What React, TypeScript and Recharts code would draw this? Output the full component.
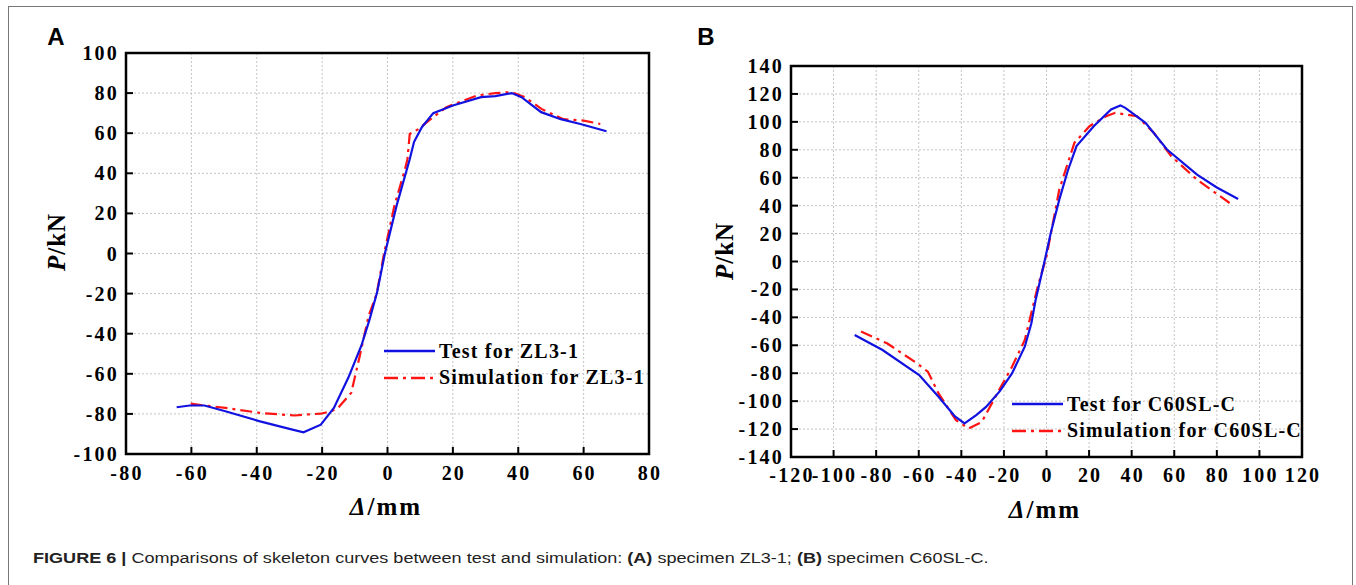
import React from "react";
import { LineChart, Line, XAxis, YAxis, CartesianGrid, ReferenceArea } from "recharts";

// Panel A: specimen ZL3-1  (d = displacement mm, p = load kN)
const testZL3 = [
  { d: -64.5, p: -76.7 }, { d: -60.5, p: -75.8 }, { d: -56, p: -75.8 }, { d: -49.6, p: -78.7 },
  { d: -39, p: -83.7 }, { d: -30, p: -87.5 }, { d: -25.7, p: -89.2 }, { d: -20.4, p: -85.4 },
  { d: -16.4, p: -77 }, { d: -12, p: -62 }, { d: -8, p: -46 }, { d: -5.5, p: -33 },
  { d: -3.2, p: -19.5 }, { d: -0.8, p: 0 }, { d: 2.8, p: 24 }, { d: 6.8, p: 47 },
  { d: 8.1, p: 55.6 }, { d: 10.5, p: 63 }, { d: 14, p: 70 }, { d: 20, p: 73.8 },
  { d: 28.6, p: 78 }, { d: 33, p: 78.5 }, { d: 38, p: 80 }, { d: 41, p: 78 },
  { d: 47, p: 70.5 }, { d: 53, p: 67 }, { d: 59, p: 64.6 }, { d: 67, p: 61 },
];
const simZL3 = [
  { d: -60.2, p: -74.9 }, { d: -55, p: -76 }, { d: -49.6, p: -77 }, { d: -39, p: -79.5 },
  { d: -28.4, p: -80.8 }, { d: -24, p: -80.2 }, { d: -20.4, p: -79.9 }, { d: -17, p: -78.5 },
  { d: -15.1, p: -77 }, { d: -11.1, p: -69.5 }, { d: -8.5, p: -51.2 }, { d: -5.8, p: -31.2 },
  { d: -3.3, p: -20 }, { d: -1.2, p: -1.2 }, { d: 2.1, p: 23.8 }, { d: 5, p: 40 },
  { d: 6.1, p: 47 }, { d: 6.8, p: 59.6 }, { d: 9.4, p: 62 }, { d: 14, p: 68 },
  { d: 18, p: 73 }, { d: 27.3, p: 78.8 }, { d: 33, p: 80 }, { d: 37.9, p: 80.5 },
  { d: 42, p: 78 }, { d: 47.2, p: 72 }, { d: 53.8, p: 67 }, { d: 60, p: 66.3 }, { d: 65.1, p: 64.6 },
];

// Panel B: specimen C60SL-C
const testC60 = [
  { d: -90.1, p: -52.6 }, { d: -77, p: -63.4 }, { d: -59.8, p: -81.3 }, { d: -50.7, p: -96.9 },
  { d: -43, p: -111 }, { d: -38.5, p: -116 }, { d: -33, p: -110 }, { d: -28.4, p: -104.1 },
  { d: -22, p: -93 }, { d: -16.2, p: -80.1 }, { d: -10.2, p: -61 }, { d: -7.1, p: -44.2 },
  { d: -5.1, p: -27.5 }, { d: -1.1, p: -1.1 }, { d: 2, p: 20.4 }, { d: 6, p: 44.3 },
  { d: 10, p: 65 }, { d: 14.1, p: 82.6 }, { d: 22.2, p: 96.9 }, { d: 30.3, p: 108.9 },
  { d: 34.7, p: 111.8 }, { d: 37, p: 110 }, { d: 46.5, p: 99.3 }, { d: 56.6, p: 80.2 },
  { d: 70.7, p: 62.2 }, { d: 80, p: 53 }, { d: 90, p: 44.8 },
];
const simC60 = [
  { d: -87.1, p: -50.2 }, { d: -74.9, p: -58.6 }, { d: -60.8, p: -72.9 }, { d: -55.7, p: -79 },
  { d: -50.7, p: -94.5 }, { d: -42.5, p: -113.6 }, { d: -36.5, p: -119.6 }, { d: -30.4, p: -114.9 },
  { d: -22.3, p: -92.1 }, { d: -16.2, p: -75.4 }, { d: -10.2, p: -56.2 }, { d: -4.1, p: -17.9 },
  { d: 0, p: 3.6 }, { d: 6, p: 51.5 }, { d: 13.1, p: 85 }, { d: 20.2, p: 96.9 },
  { d: 28, p: 104 }, { d: 32.3, p: 106.5 }, { d: 42.5, p: 104 }, { d: 50.5, p: 92 },
  { d: 58.6, p: 75.4 }, { d: 70.7, p: 58.6 }, { d: 86, p: 41.9 },
];

const xTicksA = [-80, -60, -40, -20, 0, 20, 40, 60, 80];
const yTicksA = [-100, -80, -60, -40, -20, 0, 20, 40, 60, 80, 100];
const xTicksB = [-120, -100, -80, -60, -40, -20, 0, 20, 40, 60, 80, 100, 120];
const yTicksB = [-140, -120, -100, -80, -60, -40, -20, 0, 20, 40, 60, 80, 100, 120, 140];

const legendA = ["Test for ZL3-1", "Simulation for ZL3-1"];
const legendB = ["Test for C60SL-C", "Simulation for C60SL-C"];

const serif = "'Liberation Serif', 'Times New Roman', serif";
const BLUE = "#1212e0";
const RED = "#ff1414";
const DASH = "12 5 3 5";

function XTick({ x, y, payload, dy }: any) {
  return (
    <g>
      <line x1={x} x2={x} y1={y} y2={y - 7} stroke="#000" strokeWidth={2} />
      <text x={x + 1} y={y + dy} textAnchor="middle" dominantBaseline="central"
        fontFamily={serif} fontWeight="bold" fontSize={20} letterSpacing={2.2} fill="#000">
        {payload.value}
      </text>
    </g>
  );
}

function YTick({ x, y, payload }: any) {
  return (
    <g>
      <line x1={x} x2={x + 7} y1={y} y2={y} stroke="#000" strokeWidth={2} />
      <text x={x - 7} y={y} textAnchor="end" dominantBaseline="central"
        fontFamily={serif} fontWeight="bold" fontSize={20} letterSpacing={2.2} fill="#000">
        {payload.value}
      </text>
    </g>
  );
}

function Panel({ test, sim, xTicks, yTicks, width, height, margin, dy }: any) {
  const xd = [xTicks[0], xTicks[xTicks.length - 1]];
  const yd = [yTicks[0], yTicks[yTicks.length - 1]];
  return (
    <LineChart width={width} height={height} margin={margin}>
      <CartesianGrid stroke="#c4c4c4" strokeDasharray="2 2" />
      <XAxis dataKey="d" type="number" domain={xd} ticks={xTicks} interval={0} height={30}
        axisLine={false} tickLine={false} tickSize={0} tickMargin={0}
        tick={(p: any) => <XTick {...p} dy={dy} />} allowDataOverflow />
      <YAxis dataKey="p" type="number" domain={yd} ticks={yTicks} interval={0} width={60}
        axisLine={false} tickLine={false} tickSize={0} tickMargin={0}
        tick={(p: any) => <YTick {...p} />} allowDataOverflow />
      <ReferenceArea x1={xd[0]} x2={xd[1]} y1={yd[0]} y2={yd[1]} fill="none" fillOpacity={0}
        stroke="#000" strokeWidth={2.5} />
      <Line data={sim} dataKey="p" type="linear" stroke={RED} strokeWidth={2.2}
        strokeDasharray={DASH} dot={false} isAnimationActive={false} />
      <Line data={test} dataKey="p" type="linear" stroke={BLUE} strokeWidth={2.2}
        dot={false} isAnimationActive={false} />
    </LineChart>
  );
}

function LegendBox({ left, top, labels }: any) {
  const row = (label: string, dashed: boolean) => (
    <div key={label} style={{ display: "flex", alignItems: "center", height: 26.5 }}>
      <svg width={52} height={6} style={{ display: "block" }}>
        <line x1={0} x2={51} y1={3} y2={3} stroke={dashed ? RED : BLUE} strokeWidth={2.5}
          strokeDasharray={dashed ? "14 5 3 5" : undefined} />
      </svg>
      <span style={{ marginLeft: 3, fontFamily: serif, fontWeight: "bold", fontSize: 20,
        letterSpacing: 1.2, whiteSpace: "nowrap" }}>{label}</span>
    </div>
  );
  return (
    <div style={{ position: "absolute", left, top }}>
      {labels.map((l: string, i: number) => row(l, i === 1))}
    </div>
  );
}

const abs = (left: number, top: number, extra: any = {}) =>
  ({ position: "absolute", left, top, ...extra } as React.CSSProperties);

export default function App() {
  return (
    <div style={{ position: "absolute", left: 0, top: 0, width: 1356, height: 585, overflow: "hidden", background: "#fff" }}>
      <div style={abs(8, 6, { width: 1343, height: 620, border: "1.5px solid #777" })} />

      <div style={abs(0, 0)}>
        <Panel test={testZL3} sim={simZL3} xTicks={xTicksA} yTicks={yTicksA}
          width={680} height={530} margin={{ top: 53, right: 31, bottom: 46, left: 66 }} dy={19} />
      </div>
      <div style={abs(680, 0)}>
        <Panel test={testC60} sim={simC60} xTicks={xTicksB} yTicks={yTicksB}
          width={676} height={530} margin={{ top: 66, right: 54, bottom: 43, left: 51 }} dy={18} />
      </div>

      <LegendBox left={384} top={338} labels={legendA} />
      <LegendBox left={1012} top={391} labels={legendB} />

      <div style={abs(56, 37, { transform: "translate(-50%,-50%)", fontFamily: "'Liberation Sans', Arial, sans-serif", fontWeight: "bold", fontSize: 24 })}>A</div>
      <div style={abs(706, 37, { transform: "translate(-50%,-50%)", fontFamily: "'Liberation Sans', Arial, sans-serif", fontWeight: "bold", fontSize: 24 })}>B</div>

      {[{ x: 57, y: 242 }, { x: 725, y: 251 }].map((p, i) => (
        <div key={"p" + i} style={abs(p.x, p.y, { transform: "translate(-50%,-50%) rotate(-90deg)", fontFamily: serif, fontWeight: "bold", fontSize: 25, whiteSpace: "nowrap", letterSpacing: 1 })}>
          <i>P</i>/kN
        </div>
      ))}
      {[{ x: 386, y: 507 }, { x: 1045, y: 510 }].map((p, i) => (
        <div key={"d" + i} style={abs(p.x, p.y, { transform: "translate(-50%,-50%)", fontFamily: serif, fontWeight: "bold", fontSize: 25, whiteSpace: "nowrap", letterSpacing: 2 })}>
          <i>Δ</i>/mm
        </div>
      ))}

      <div style={abs(33, 558, { transform: "translateY(-50%) scaleX(1.29)", transformOrigin: "left center", fontFamily: "'Liberation Sans', Arial, sans-serif", fontSize: 14, whiteSpace: "nowrap", color: "#222" })}>
        <b>FIGURE 6 |</b> Comparisons of skeleton curves between test and simulation: <b>(A)</b> specimen ZL3-1; <b>(B)</b> specimen C60SL-C.
      </div>
    </div>
  );
}
